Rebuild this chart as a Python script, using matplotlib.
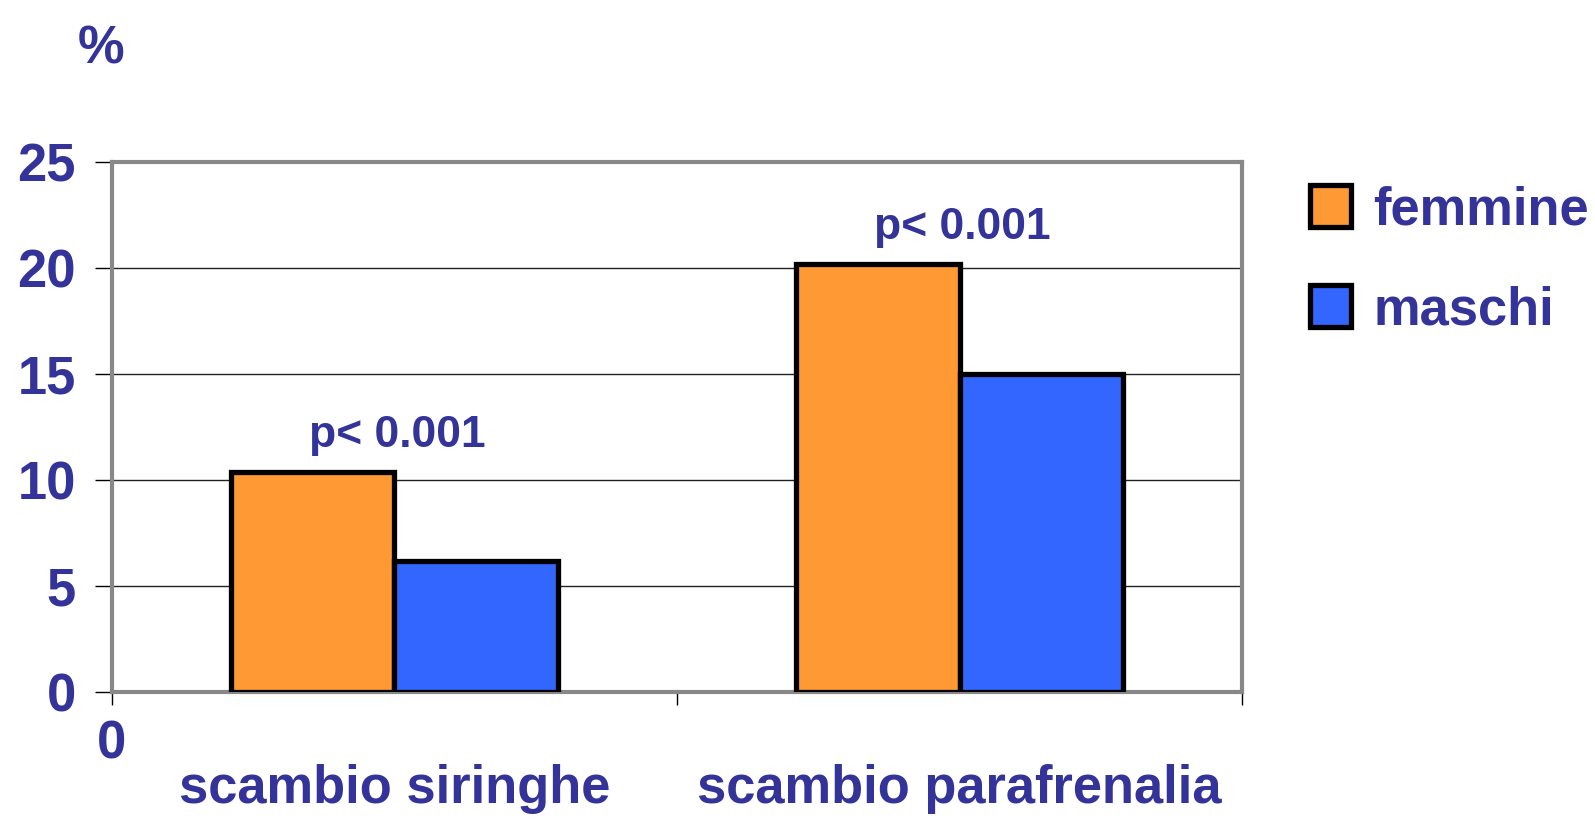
# ── 1. Packages ───────────────────────────────────────────────────────────────
import matplotlib
matplotlib.use("Agg")
import matplotlib.pyplot as plt
from matplotlib import font_manager
import numpy as np

# ── 2. Data ───────────────────────────────────────────────────────────────────
categories = ["scambio siringhe", "scambio parafrenalia"]
series     = ["femmine", "maschi"]
femmine    = [10.4, 20.2]
maschi     = [6.2, 15.0]
p_labels   = ["p< 0.001", "p< 0.001"]
y_ticks    = [0, 5, 10, 15, 20, 25]

# ── 3. Style ──────────────────────────────────────────────────────────────────
# the original uses a narrow bold sans; fall back to a smaller regular one
names = {f.name for f in font_manager.fontManager.ttflist}
if "Liberation Sans Narrow" in names:
    FONT, SCALE = "Liberation Sans Narrow", 1.0
else:
    FONT, SCALE = "Liberation Sans", 0.84
plt.rcParams["font.family"] = [FONT, "DejaVu Sans"]

TEXT   = "#333399"
ORANGE = "#FF9933"
BLUE   = "#3366FF"
FRAME  = "#888888"
BIG    = 45 * SCALE
MID    = 38 * SCALE

# ── 4. Figure ─────────────────────────────────────────────────────────────────
fig = plt.figure(figsize=(15.95, 8.22), dpi=100)
ax = fig.add_axes([0.0702, 0.1582, 0.7085, 0.6447])

x = np.arange(len(categories))
w = 0.29
ax.bar(x - w / 2, femmine, w, color=ORANGE, edgecolor="black",
       linewidth=3.8, label=series[0], zorder=3)
ax.bar(x + w / 2, maschi, w, color=BLUE, edgecolor="black",
       linewidth=3.8, label=series[1], zorder=3)

# p-value annotations above each group
for xi, top, lab in zip(x, np.maximum(femmine, maschi), p_labels):
    ax.text(xi + 0.005, top + 1.15, lab, ha="center", va="baseline",
            fontsize=MID, fontweight="bold", color=TEXT)

# axes limits / grid
ax.set_xlim(-0.5, 1.5)
ax.set_ylim(0, 25)
ax.set_yticks(y_ticks)
ax.set_yticklabels([str(v) for v in y_ticks])
for v in y_ticks[1:-1]:
    ax.axhline(v, color="#222222", linewidth=1.0, zorder=1)

for side in ["top", "right", "left", "bottom"]:
    ax.spines[side].set_color(FRAME)
    ax.spines[side].set_linewidth(3.0)
ax.axhline(0, color="black", linewidth=1.0, zorder=2)

ax.tick_params(axis="y", direction="out", length=12, width=1,
               color="black", pad=14, labelsize=BIG, labelcolor=TEXT)
for t in ax.get_yticklabels():
    t.set_fontweight("bold")

# major x ticks at group boundaries, only the first one labelled "0"
ax.set_xticks([-0.5, 0.5, 1.5])
ax.set_xticklabels(["0", "", ""])
ax.tick_params(axis="x", which="major", direction="out", length=9,
               width=1, color="black", pad=11, labelsize=BIG,
               labelcolor=TEXT)
for t in ax.get_xticklabels():
    t.set_fontweight("bold")

# category names as minor tick labels
ax.set_xticks(x, minor=True)
ax.set_xticklabels(categories, minor=True)
ax.tick_params(axis="x", which="minor", length=0, pad=52,
               labelsize=BIG, labelcolor=TEXT)
for t in ax.get_xticklabels(minor=True):
    t.set_fontweight("bold")

# unit label
fig.text(0.049, 0.923, "%", fontsize=BIG, fontweight="bold", color=TEXT,
         ha="left", va="baseline")

# legend
leg = ax.legend(loc="upper left", bbox_to_anchor=(0.805, 0.807),
                bbox_transform=fig.transFigure, frameon=False,
                prop={"size": BIG, "weight": "bold"},
                handlelength=0.78, handleheight=0.86, handletextpad=0.42,
                labelspacing=0.95, borderpad=0)
for t in leg.get_texts():
    t.set_color(TEXT)

fig.savefig("out.png", dpi=100)
